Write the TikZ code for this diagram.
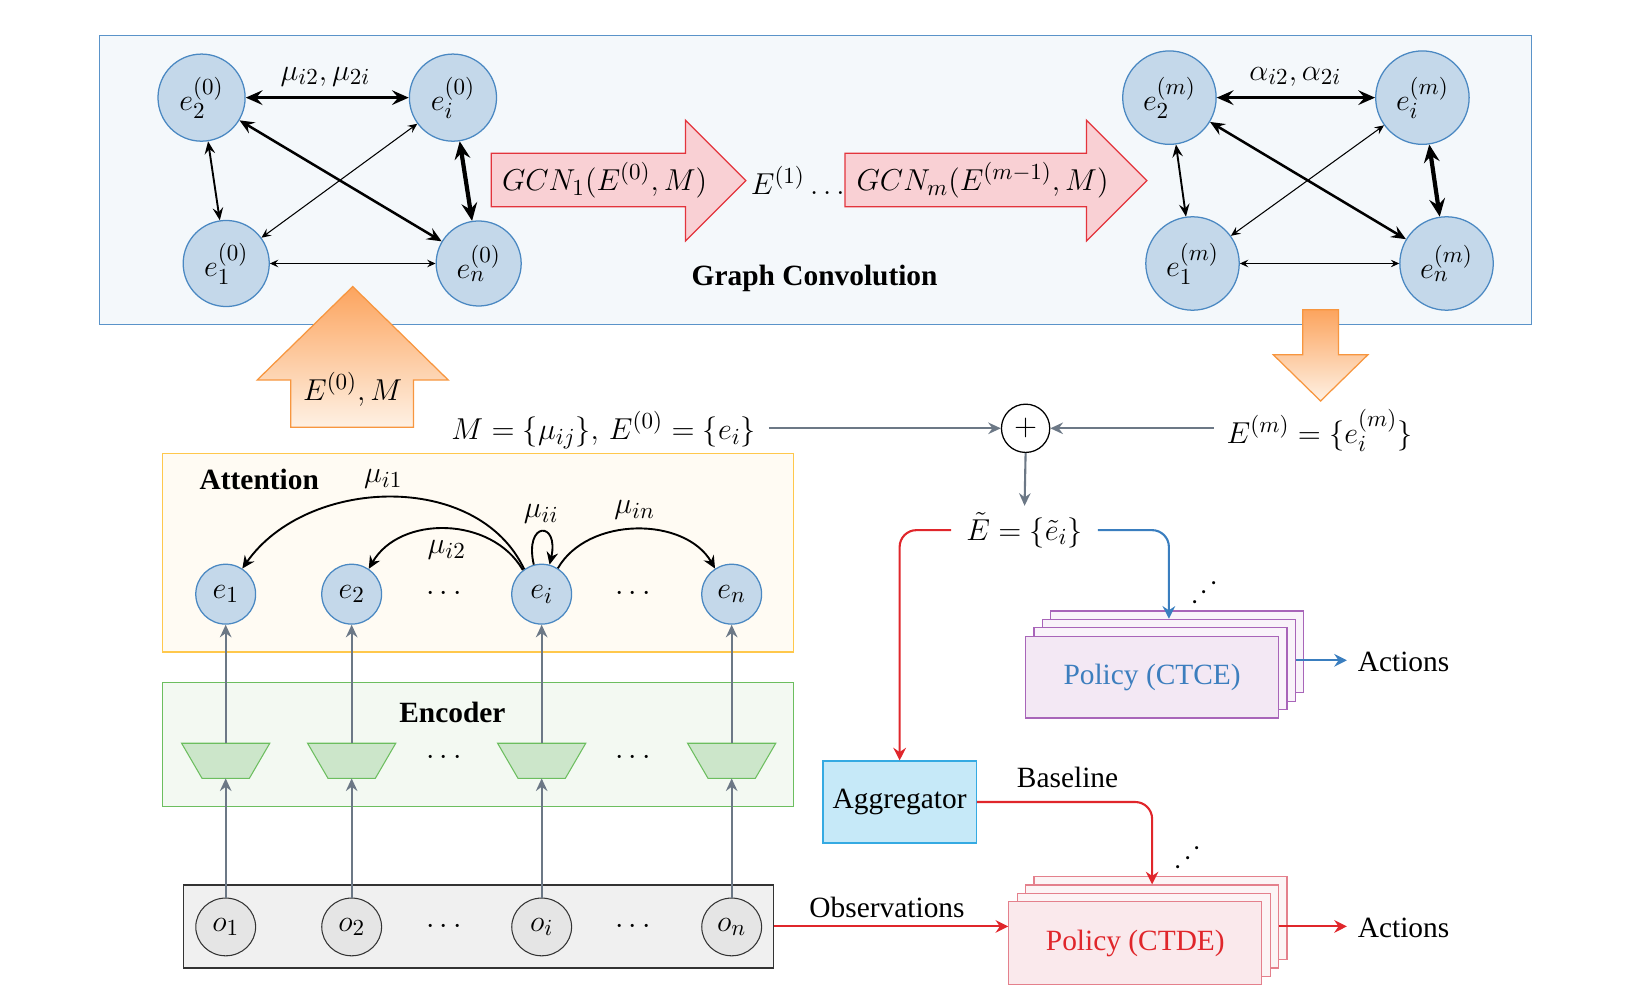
\documentclass[tikz,border=0pt]{standalone}
\usepackage[no-math]{fontspec}
\setmainfont{Liberation Serif}
\usetikzlibrary{arrows.meta,shapes.geometric,calc}
\definecolor{gcfill}{HTML}{F4F8FB}
\definecolor{gcdraw}{HTML}{5A93C9}
\definecolor{nfill}{HTML}{C4D8EA}
\definecolor{ndraw}{HTML}{4A88C2}
\definecolor{rafill}{HTML}{F9D0D4}
\definecolor{radraw}{HTML}{E3343C}
\definecolor{ortop}{HTML}{FCA45E}
\definecolor{orbot}{HTML}{FEF1E4}
\definecolor{ordraw}{HTML}{F7963F}
\definecolor{grayarr}{HTML}{6C7886}
\definecolor{attfill}{HTML}{FFFBF3}
\definecolor{attdraw}{HTML}{FFC84C}
\definecolor{encfill}{HTML}{F3F9F2}
\definecolor{encdraw}{HTML}{6CBE5F}
\definecolor{trfill}{HTML}{CCE6CA}
\definecolor{obsfill}{HTML}{F0F0F0}
\definecolor{obsnode}{HTML}{E5E5E5}
\definecolor{aggfill}{HTML}{C6E9F8}
\definecolor{aggdraw}{HTML}{35AAE2}
\definecolor{cefill}{HTML}{F3E8F4}
\definecolor{ceback}{HTML}{F9F3FA}
\definecolor{cedraw}{HTML}{A865B9}
\definecolor{cetext}{HTML}{3C7EBE}
\definecolor{defill}{HTML}{FAE9EC}
\definecolor{deback}{HTML}{FCF4F5}
\definecolor{dedraw}{HTML}{E4808C}
\definecolor{redline}{HTML}{E0262B}
\definecolor{blueline}{HTML}{3A7EBF}
\begin{document}
\begin{tikzpicture}[x=0.5pt,y=-0.5pt,
  txt/.style={font=\fontsize{14}{17}\selectfont, inner sep=0pt},
  btxt/.style={font=\fontsize{14}{17}\selectfont\bfseries, inner sep=0pt},
  mth/.style={font=\fontsize{15}{18}\selectfont, inner sep=0pt},
  gn/.style={circle, draw=ndraw, fill=nfill, line width=0.6pt, inner sep=0pt, font=\fontsize{15}{18}\selectfont},
  an/.style={circle, draw=ndraw, fill=nfill, line width=0.6pt, inner sep=0pt, minimum size=28.5pt, font=\fontsize{15}{18}\selectfont},
  on/.style={ellipse, draw=black!80, fill=obsnode, line width=0.5pt, inner sep=0pt, minimum width=28.5pt, minimum height=27.5pt, font=\fontsize{15}{18}\selectfont},
  gedge/.style n args={3}{<->, >={Stealth[length=#1,width=#2,inset=#3]}, black},
  garr/.style={draw=grayarr, line width=1pt, -{Stealth[length=6pt,width=5.5pt,inset=2pt]}},
  rarr/.style={draw=redline, line width=1pt, -{Stealth[length=6pt,width=6pt,inset=2pt]}},
  barr/.style={draw=blueline, line width=1pt, -{Stealth[length=6pt,width=6pt,inset=2pt]}},
  catt/.style={black, line width=0.9pt, -{Stealth[length=6pt,width=5.5pt,inset=2pt]}},
  redblock/.style={draw=radraw, fill=rafill, line width=0.6pt},
  orblock/.style={draw=ordraw, top color=ortop, bottom color=orbot, line width=0.6pt},
  trap/.style={draw=encdraw, fill=trfill, line width=0.5pt},
  cebox/.style={draw=cedraw, line width=0.6pt, minimum width=120.5pt, minimum height=39pt, inner sep=0pt},
  debox/.style={draw=dedraw, line width=0.6pt, minimum width=120.5pt, minimum height=39.5pt, inner sep=0pt}
]
\useasboundingbox (0,0) rectangle (1568,960);

% ---------------- Graph convolution panel ----------------
\node[draw=gcdraw, fill=gcfill, line width=0.6pt, minimum width=682pt, minimum height=137.5pt, inner sep=0pt] (gcbox) at (777,171.5) {};

\node[gn, minimum size=41.5pt] (l2) at (192,93) {$e_2^{(0)}$};
\node[gn, minimum size=41.5pt] (li) at (431.5,93) {$e_i^{(0)}$};
\node[gn, minimum size=41pt] (l1) at (215.5,251) {$e_1^{(0)}$};
\node[gn, minimum size=40.5pt] (ln) at (456,251) {$e_n^{(0)}$};
\draw[gedge={8pt}{7pt}{3pt}, line width=1.4pt] (l2) -- (li);
\draw[gedge={6pt}{5pt}{2.2pt}, line width=0.9pt] (l2) -- (l1);
\draw[gedge={7pt}{6pt}{2.6pt}, line width=1.2pt] (l2) -- (ln);
\draw[gedge={4.5pt}{4pt}{1.7pt}, line width=0.5pt] (li) -- (l1);
\draw[gedge={8.5pt}{7.5pt}{3pt}, line width=2pt] (li) -- (ln);
\draw[gedge={4pt}{3.6pt}{1.5pt}, line width=0.4pt] (l1) -- (ln);
\node[mth] (lab0) at (310,73) {$\mu_{i2}, \mu_{2i}$};

\node[gn, minimum size=44.5pt] (r2) at (1114,93) {$e_2^{(m)}$};
\node[gn, minimum size=44.5pt] (ri) at (1355,93) {$e_i^{(m)}$};
\node[gn, minimum size=44.5pt] (r1) at (1136,251) {$e_1^{(m)}$};
\node[gn, minimum size=44.5pt] (rn) at (1378,251) {$e_n^{(m)}$};
\draw[gedge={8pt}{7pt}{3pt}, line width=1.4pt] (r2) -- (ri);
\draw[gedge={6pt}{5pt}{2.2pt}, line width=0.9pt] (r2) -- (r1);
\draw[gedge={7pt}{6pt}{2.6pt}, line width=1.2pt] (r2) -- (rn);
\draw[gedge={4.5pt}{4pt}{1.7pt}, line width=0.5pt] (ri) -- (r1);
\draw[gedge={8.5pt}{7.5pt}{3pt}, line width=2pt] (ri) -- (rn);
\draw[gedge={4pt}{3.6pt}{1.5pt}, line width=0.4pt] (r1) -- (rn);
\node[mth] (labm) at (1234,73) {$\alpha_{i2}, \alpha_{2i}$};

\path[redblock] (468,146) -- (653,146) -- (653,114.5) -- (710.5,172) -- (653,229.5) -- (653,197) -- (468,197) -- cycle;
\path[redblock] (805,146) -- (1035,146) -- (1035,114.5) -- (1092.5,172) -- (1035,229.5) -- (1035,197) -- (805,197) -- cycle;
\node[mth] (gcn1) at (576,172) {$GCN_1(E^{(0)}, M)$};
\node[mth] (E1) at (760,172) {$E^{(1)}\ldots$};
\node[mth] (gcnm) at (936,172) {$GCN_m(E^{(m-1)}, M)$};
\node[btxt] (gctitle) at (776,265) {Graph Convolution};

% orange block arrows
\shadedraw[orblock] (336,273) -- (427,362) -- (394,362) -- (394,407) -- (277,407) -- (277,362) -- (245,362) -- cycle;
\node[mth] (upl) at (336,371) {$E^{(0)}, M$};
\shadedraw[orblock] (1241,295) -- (1275,295) -- (1275,338) -- (1303,338) -- (1258,382) -- (1213,338) -- (1241,338) -- cycle;

% ---------------- middle row ----------------
\node[mth] (Mtext) at (575,410) {$M=\{\mu_{ij}\},\, E^{(0)}=\{e_i\}$};
\node[circle, draw=black, line width=0.6pt, minimum size=23pt, inner sep=0pt, mth] (plus) at (977,408) {$+$};
\node[mth] (Emtext) at (1257,410) {$E^{(m)}=\{e_i^{(m)}\}$};
\draw[garr] ([xshift=6pt]Mtext.east |- plus.west) -- (plus.west);
\draw[garr] ([xshift=-6pt]Emtext.west |- plus.east) -- (plus.east);
\node[mth] (Et) at (976,505) {$\tilde{E}=\{\tilde{e}_i\}$};
\draw[garr] (plus.south) -- ([yshift=3pt]Et.north);

% ---------------- Attention ----------------
\node[draw=attdraw, fill=attfill, line width=0.6pt, minimum width=300.5pt, minimum height=94.5pt, inner sep=0pt] (attbox) at (455.5,526.5) {};
\node[btxt] (atttitle) at (247,457) {Attention};
\node[an] (a1) at (215,566) {$e_1$};
\node[an] (a2) at (335,566) {$e_2$};
\node[an] (ai) at (516,566) {$e_i$};
\node[an] (aN) at (697,566) {$e_n$};
\node[mth] (ad1) at (423,566) {$\cdots$};
\node[mth] (ad2) at (603,566) {$\cdots$};
\draw[catt] (ai.125) .. controls (455,448) and (292,454) .. (a1.57);
\draw[catt] (ai.128) .. controls (468.5,491.5) and (380.9,490.4) .. (a2.56);
\draw[catt] (ai.105) .. controls (499,496) and (533,496) .. (ai.75);
\draw[catt] (ai.58) .. controls (560.1,491.6) and (652.5,491.9) .. (aN.123);
\node[mth] (mu1) at (365,456) {$\mu_{i1}$};
\node[mth] (mu2) at (425.5,524) {$\mu_{i2}$};
\node[mth] (mui) at (515.5,490) {$\mu_{ii}$};
\node[mth] (mun) at (604.5,486) {$\mu_{in}$};

% ---------------- Encoder ----------------
\node[draw=encdraw, fill=encfill, line width=0.6pt, minimum width=300.5pt, minimum height=59pt, inner sep=0pt] (encbox) at (455.5,709) {};
\node[btxt] (enctitle) at (431,679) {Encoder};
\foreach \x/\n in {215/1,335/2,516/i,697/n}{
  \draw[trap] (\x-42,708) -- (\x+42,708) -- (\x+22.5,741.5) -- (\x-22.5,741.5) -- cycle;
  \coordinate (t\n t) at (\x,708);
  \coordinate (t\n b) at (\x,741.5);
}
\node[mth] (ed1) at (423,722) {$\cdots$};
\node[mth] (ed2) at (603,722) {$\cdots$};
\draw[garr] (t1t) -- (a1.south);
\draw[garr] (t2t) -- (a2.south);
\draw[garr] (tit) -- (ai.south);
\draw[garr] (tnt) -- (aN.south);

% ---------------- Observations ----------------
\node[draw=black!80, fill=obsfill, line width=0.6pt, minimum width=281pt, minimum height=39.5pt, inner sep=0pt] (obs) at (456,882.5) {};
\node[on] (o1) at (215,883) {$o_1$};
\node[on] (o2) at (335,883) {$o_2$};
\node[on] (oi) at (516,883) {$o_i$};
\node[on] (oN) at (697,883) {$o_n$};
\node[mth] (od1) at (423,883) {$\cdots$};
\node[mth] (od2) at (603,883) {$\cdots$};
\draw[garr] (o1.north) -- (t1b);
\draw[garr] (o2.north) -- (t2b);
\draw[garr] (oi.north) -- (tib);
\draw[garr] (oN.north) -- (tnb);

% ---------------- Aggregator and policies ----------------
\node[draw=aggdraw, fill=aggfill, line width=0.6pt, minimum width=73pt, minimum height=39pt, inner sep=0pt, txt] (agg) at (857,764) {Aggregator};

\node[cebox, fill=ceback] (ce4) at (1121.5,621) {};
\node[cebox, fill=ceback] (ce3) at (1113.5,629) {};
\node[cebox, fill=ceback] (ce2) at (1105.5,637) {};
\node[cebox, fill=cefill, txt, text=cetext] (ce1) at (1097.5,645) {Policy (CTCE)};
\node[mth, rotate=45] (cedots) at (1148,565) {$\cdots$};

\node[debox, fill=deback] (de4) at (1105.5,874.5) {};
\node[debox, fill=deback] (de3) at (1097.5,882.5) {};
\node[debox, fill=deback] (de2) at (1089.5,890.5) {};
\node[debox, fill=defill, txt, text=redline] (de1) at (1081.5,898.5) {Policy (CTDE)};
\node[mth, rotate=45] (dedots) at (1132,818) {$\cdots$};

\draw[rarr, rounded corners=8pt] ([xshift=-7pt]Et.west) -| (agg.north);
\draw[barr, rounded corners=8pt] ([xshift=7pt]Et.east) -| (ce3.north);
\draw[rarr, rounded corners=8pt] (agg.east) -| (de3.north);
\node[txt] (baseline) at (1017,741) {Baseline};

\node[txt] (act1) at (1337,631) {Actions};
\node[txt] (act2) at (1337,884) {Actions};
\draw[barr] (ce3.east) -- ([xshift=-5pt]ce3.east -| act1.west);
\draw[rarr] (de3.east) -- ([xshift=-5pt]de3.east -| act2.west);

\draw[rarr] (obs.east) -- (obs.east -| de1.west);
\node[txt] (obslab) at (845,864) {Observations};
\end{tikzpicture}
\end{document}
